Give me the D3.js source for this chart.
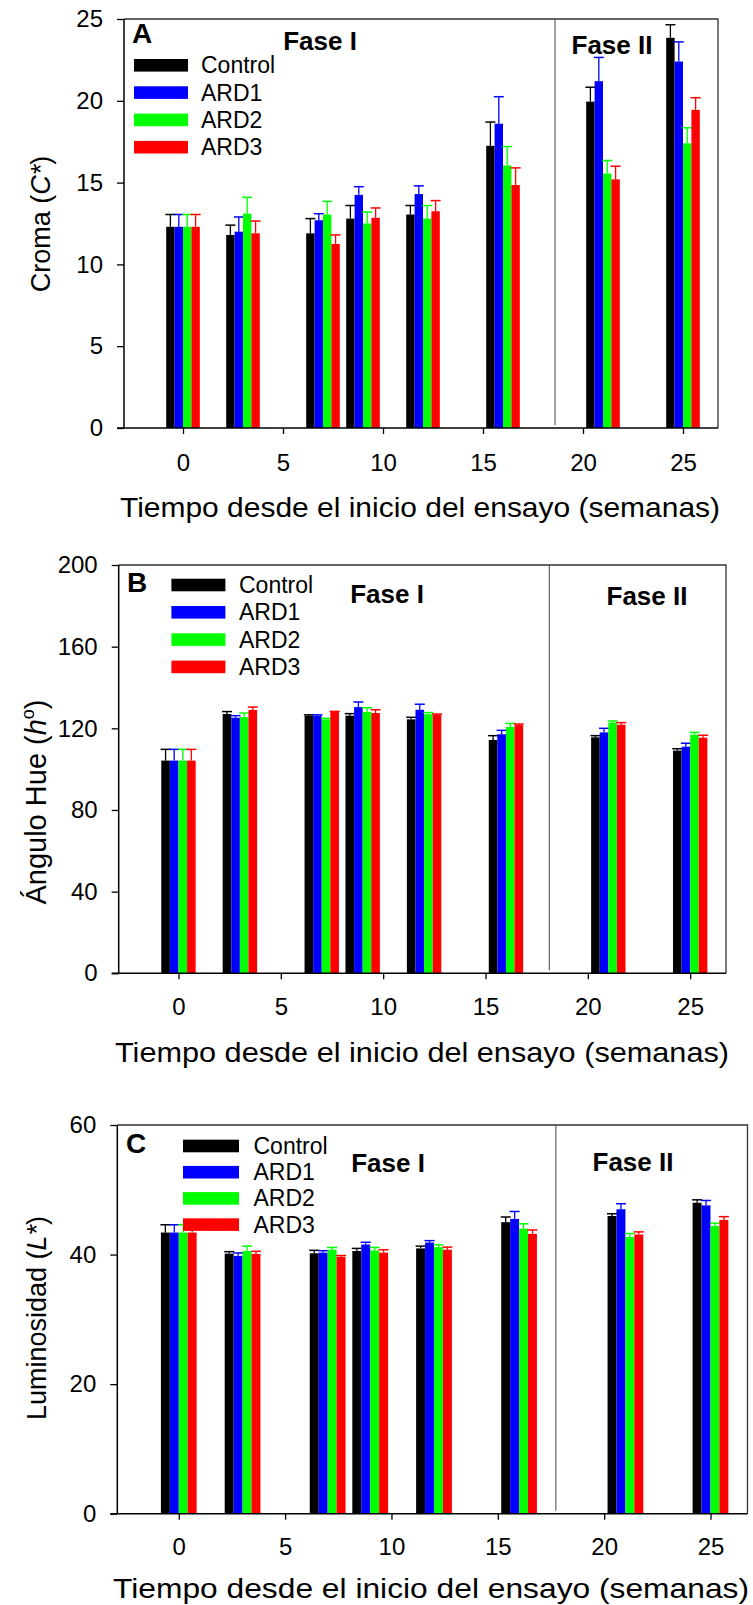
<!DOCTYPE html>
<html>
<head>
<meta charset="utf-8">
<script src="https://cdn.jsdelivr.net/npm/d3@7"></script>
<style>
  html, body { margin: 0; padding: 0; background: #fff; }
  svg { display: block; font-family: "Liberation Sans", Arial, sans-serif; }
</style>
</head>
<body>
<svg id="chart" width="753" height="1605"></svg>
<script>
// ---------- data ----------
const weeks = [0, 3, 7, 9, 12, 16, 21, 25];
const seriesNames = ["Control", "ARD1", "ARD2", "ARD3"];
const seriesColors = ["#000000", "#0000ff", "#00ff00", "#ff0000"];
const xTickValues = [0, 5, 10, 15, 20, 25];
const xTitle = "Tiempo desde el inicio del ensayo (semanas)";
const phaseLabels = ["Fase I", "Fase II"];

// Panel A – Croma (C*)
const chromaTicks = [0, 5, 10, 15, 20, 25];
const chromaControl = [12.3, 11.8, 11.9, 12.8, 13.05, 17.25, 19.95, 23.85];
const chromaARD1    = [12.3, 12.0, 12.7, 14.25, 14.3, 18.6, 21.2, 22.4];
const chromaARD2    = [12.3, 13.1, 13.05, 12.5, 12.8, 16.05, 15.55, 17.4];
const chromaARD3    = [12.3, 11.9, 11.25, 12.85, 13.25, 14.85, 15.2, 19.45];
const chromaErrControl = [0.75, 0.6, 0.9, 0.8, 0.55, 1.45, 0.88, 0.8];
const chromaErrARD1    = [0.75, 0.9, 0.4, 0.5, 0.5, 1.65, 1.45, 1.2];
const chromaErrARD2    = [0.75, 1.0, 0.8, 0.7, 0.8, 1.15, 0.8, 0.95];
const chromaErrARD3    = [0.75, 0.75, 0.55, 0.6, 0.65, 1.05, 0.8, 0.74];

// Panel B – Ángulo Hue (h°)
const hueTicks = [0, 40, 80, 120, 160, 200];
const hueControl = [104.2, 127.0, 126.2, 126.2, 124.4, 114.3, 115.6, 109.1];
const hueARD1    = [104.2, 125.2, 126.2, 130.4, 129.1, 117.1, 118.0, 111.0];
const hueARD2    = [104.2, 125.5, 124.4, 128.0, 126.9, 120.7, 122.8, 116.9];
const hueARD3    = [104.2, 129.0, 128.0, 127.5, 126.7, 121.6, 121.8, 115.4];
const hueErrControl = [5.5, 1.2, 0.4, 1.0, 1.0, 2.1, 0.8, 0.9];
const hueErrARD1    = [5.5, 1.0, 0.4, 2.5, 2.7, 1.9, 2.0, 1.7];
const hueErrARD2    = [5.5, 2.0, 0.5, 2.1, 0.8, 1.7, 0.8, 1.1];
const hueErrARD3    = [5.5, 1.4, 0.3, 1.6, 0.3, 0.5, 1.0, 1.2];

// Panel C – Luminosidad (L*)
const lumTicks = [0, 20, 40, 60];
const lumControl = [43.4, 40.15, 40.2, 40.55, 40.95, 45.0, 45.95, 48.0];
const lumARD1    = [43.4, 39.8, 40.3, 41.55, 41.85, 45.5, 47.0, 47.6];
const lumARD2    = [43.4, 40.55, 40.75, 40.65, 41.15, 44.0, 42.7, 44.4];
const lumARD3    = [43.4, 40.1, 39.65, 40.3, 40.75, 43.2, 43.1, 45.35];
const lumErrControl = [1.2, 0.3, 0.45, 0.4, 0.35, 0.8, 0.35, 0.45];
const lumErrARD1    = [1.2, 0.45, 0.3, 0.35, 0.3, 1.15, 0.85, 0.75];
const lumErrARD2    = [1.2, 0.75, 0.35, 0.45, 0.35, 0.75, 0.55, 0.45];
const lumErrARD3    = [1.2, 0.4, 0.2, 0.45, 0.4, 0.6, 0.4, 0.5];

const barWidthWeeks = 0.42;

// ---------- layout ----------
const panels = [
  {
    letter: "A", yMax: 25, yTicks: chromaTicks,
    means: [chromaControl, chromaARD1, chromaARD2, chromaARD3],
    errs: [chromaErrControl, chromaErrARD1, chromaErrARD2, chromaErrARD3],
    left: 124, right: 718, top: 19, bottom: 428, xDomain: [-2.95, 26.75], divider: 18.6,
    yTitle: ["Croma (", "C*", ")"], yTitleX: 50, yTitleY: 224, yTitleSize: 27, yTitleSup: false,
    legX: 134, legY: 65.3, legStep: 27.3, legW: 54, legTextX: 201,
    letterPos: [132, 43], fase1: [320, 50], fase2: [612, 54],
    xLabelY: 43, titleY: 517, titleX0: 120, titleX1: 720
  },
  {
    letter: "B", yMax: 200, yTicks: hueTicks,
    means: [hueControl, hueARD1, hueARD2, hueARD3],
    errs: [hueErrControl, hueErrARD1, hueErrARD2, hueErrARD3],
    left: 118.7, right: 726, top: 565, bottom: 973.3, xDomain: [-2.92, 26.75], divider: 18.12,
    yTitle: ["Ángulo Hue (", "h", ")"], yTitleX: 46, yTitleY: 802, yTitleSize: 29, yTitleSup: true,
    legX: 171.4, legY: 585, legStep: 27.3, legW: 54, legTextX: 239,
    letterPos: [127, 592], fase1: [387, 603], fase2: [647, 605],
    xLabelY: 42, titleY: 1062, titleX0: 115, titleX1: 729
  },
  {
    letter: "C", yMax: 60, yTicks: lumTicks,
    means: [lumControl, lumARD1, lumARD2, lumARD3],
    errs: [lumErrControl, lumErrARD1, lumErrARD2, lumErrARD3],
    left: 117.3, right: 747.5, top: 1125, bottom: 1513.7, xDomain: [-2.89, 26.74], divider: 17.73,
    yTitle: ["Luminosidad (", "L*", ")"], yTitleX: 46, yTitleY: 1318, yTitleSize: 27, yTitleSup: false,
    legX: 183, legY: 1146, legStep: 26.2, legW: 56, legTextX: 253.5,
    letterPos: [126, 1153], fase1: [388, 1172], fase2: [633, 1171],
    xLabelY: 41.3, titleY: 1598, titleX0: 113, titleX1: 749
  }
];

const svg = d3.select("#chart");

panels.forEach(p => {
  const g = svg.append("g");
  const x = d3.scaleLinear().domain(p.xDomain).range([p.left, p.right]);
  const y = d3.scaleLinear().domain([0, p.yMax]).range([p.bottom, p.top]);

  // bars + error bars
  p.means.forEach((vals, si) => {
    const color = seriesColors[si];
    const sg = g.append("g");
    sg.selectAll("rect").data(weeks).join("rect")
      .attr("x", (t) => x(t - 2 * barWidthWeeks + si * barWidthWeeks))
      .attr("width", x(barWidthWeeks) - x(0))
      .attr("y", (t, i) => y(vals[i]))
      .attr("height", (t, i) => y(0) - y(vals[i]))
      .attr("fill", color);
    const cx = (t) => x(t - 2 * barWidthWeeks + (si + 0.5) * barWidthWeeks);
    sg.selectAll("line.v").data(weeks).join("line").attr("class", "v")
      .attr("x1", cx).attr("x2", cx)
      .attr("y1", (t, i) => y(vals[i]))
      .attr("y2", (t, i) => y(vals[i] + p.errs[si][i]))
      .attr("stroke", color).attr("stroke-width", 1.3);
    sg.selectAll("line.c").data(weeks).join("line").attr("class", "c")
      .attr("x1", t => cx(t) - 5).attr("x2", t => cx(t) + 5)
      .attr("y1", (t, i) => y(vals[i] + p.errs[si][i]))
      .attr("y2", (t, i) => y(vals[i] + p.errs[si][i]))
      .attr("stroke", color).attr("stroke-width", 1.5);
  });

  // phase divider
  g.append("line")
    .attr("x1", x(p.divider)).attr("x2", x(p.divider))
    .attr("y1", p.top).attr("y2", p.bottom - 3)
    .attr("stroke", "#555").attr("stroke-width", 1.1);

  // frame (top/right)
  g.append("path")
    .attr("d", `M${p.left},${p.top}H${p.right}V${p.bottom}`)
    .attr("fill", "none").attr("stroke", "#333").attr("stroke-width", 1.3);

  // y axis
  const ya = g.append("g").attr("transform", `translate(${p.left},0)`)
    .call(d3.axisLeft(y).tickValues(p.yTicks).tickSize(7).tickPadding(14).tickFormat(d3.format("d")));
  ya.select(".domain").remove();
  ya.selectAll("line").attr("stroke", "#000").attr("stroke-width", 1.3);
  ya.selectAll("text").attr("font-size", 24).attr("fill", "#000")
    .attr("font-family", "'Liberation Sans', Arial, sans-serif");
  g.append("line").attr("x1", p.left).attr("x2", p.left)
    .attr("y1", p.top).attr("y2", p.bottom).attr("stroke", "#000").attr("stroke-width", 1.5);

  // x axis
  const xa = g.append("g").attr("transform", `translate(0,${p.bottom})`)
    .call(d3.axisBottom(x).tickValues(xTickValues).tickSize(6).tickFormat(d3.format("d")));
  xa.select(".domain").remove();
  xa.selectAll("line").attr("stroke", "#000").attr("stroke-width", 1.3);
  xa.selectAll("text").attr("font-size", 24).attr("fill", "#000")
    .attr("dy", null).attr("y", p.xLabelY)
    .attr("font-family", "'Liberation Sans', Arial, sans-serif");
  g.append("line").attr("x1", p.left - 7).attr("x2", p.right)
    .attr("y1", p.bottom).attr("y2", p.bottom).attr("stroke", "#000").attr("stroke-width", 1.5);

  // x title
  g.append("text")
    .attr("x", p.titleX0).attr("y", p.titleY)
    .attr("font-size", 28).attr("fill", "#000")
    .attr("textLength", p.titleX1 - p.titleX0).attr("lengthAdjust", "spacingAndGlyphs")
    .text(xTitle);

  // y title
  const yt = g.append("text")
    .attr("transform", `translate(${p.yTitleX},${p.yTitleY}) rotate(-90)`)
    .attr("text-anchor", "middle").attr("font-size", p.yTitleSize).attr("fill", "#000");
  yt.append("tspan").text(p.yTitle[0]);
  if (p.yTitleSup) {
    yt.append("tspan").attr("font-style", "italic").text(p.yTitle[1]);
    yt.append("tspan").attr("font-size", 18).attr("dy", -12).text("o");
    yt.append("tspan").attr("dy", 12).text(p.yTitle[2]);
  } else {
    yt.append("tspan").attr("font-style", "italic").text(p.yTitle[1]);
    yt.append("tspan").text(p.yTitle[2]);
  }

  // panel letter
  g.append("text").attr("x", p.letterPos[0]).attr("y", p.letterPos[1])
    .attr("font-size", 28).attr("font-weight", "bold").attr("fill", "#000").text(p.letter);

  // phase labels
  g.append("text").attr("x", p.fase1[0]).attr("y", p.fase1[1]).attr("text-anchor", "middle")
    .attr("font-size", 26).attr("font-weight", "bold").attr("fill", "#000").text(phaseLabels[0]);
  g.append("text").attr("x", p.fase2[0]).attr("y", p.fase2[1]).attr("text-anchor", "middle")
    .attr("font-size", 26).attr("font-weight", "bold").attr("fill", "#000").text(phaseLabels[1]);

  // legend
  const leg = g.append("g");
  seriesNames.forEach((name, i) => {
    const cy = p.legY + i * p.legStep;
    leg.append("rect").attr("x", p.legX).attr("y", cy - 6.3)
      .attr("width", p.legW).attr("height", 12.6).attr("fill", seriesColors[i]);
    leg.append("text").attr("x", p.legTextX).attr("y", cy + 8)
      .attr("font-size", 23).attr("fill", "#000").text(name);
  });
});
</script>
</body>
</html>
